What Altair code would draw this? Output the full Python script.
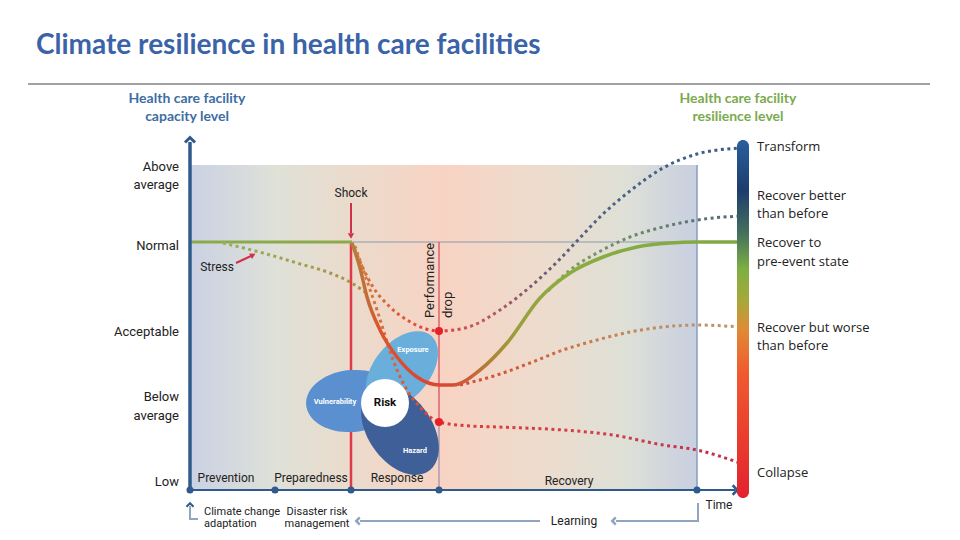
import altair as alt
import pandas as pd
import numpy as np

# Frame: t = time (0 at capacity axis), c = capacity (0 at time axis)
T_DOMAIN = [-182, 762]
C_DOMAIN = [-42, 482]

TITLE = "Climate resilience in health care facilities"
LEFT_HEADER = ["Health care facility", "capacity level"]
RIGHT_HEADER = ["Health care facility", "resilience level"]
HEADER_C = [391, 373]

LEVEL_TEXT = ["Above", "average", "Normal", "Acceptable", "Below", "average", "Low"]
LEVEL_C = [323, 305, 244, 158, 93, 74, 8]

OUTCOME_TEXT = ["Transform", "Recover better", "than before", "Recover to", "pre-event state",
                "Recover but worse", "than before", "Collapse"]
OUTCOME_C = [343, 294, 276, 247, 228, 162, 144, 17]

PHASE_TEXT = ["Prevention", "Preparedness", "Response", "Recovery"]
PHASE_T = [36, 121, 207, 379]
PHASE_C = [12, 12, 12, 9]
PHASE_BOUNDS = [0, 85, 161, 249, 507]

NORMAL = 248
SHOCK_T = 161
DROP_T = 249
RECOVERY_END = 507
BG_TOP = 325
AXIS_END_T = 545
AXIS_TOP_C = 350

# curves (t, c)
PRE_T = [0, 162]
PRE_C = [248, 248]
STRESS_T = [33, 73, 107, 140, 160, 175]
STRESS_C = [247, 237, 227, 217, 208, 198]
RESP_T = [162, 170, 177, 190, 207, 227, 250, 263, 290, 317, 350, 380, 413, 447, 480, 507, 550]
RESP_C = [247, 222, 193, 160, 133, 113, 105, 105, 120, 147, 192, 217, 233, 243, 247, 248, 248]
TRANSFORM_T = [162, 183, 200, 217, 249, 275, 310, 340, 367, 387, 413, 440, 473, 507, 550]
TRANSFORM_C = [247, 203, 183, 170, 159, 162, 180, 203, 228, 249, 276, 299, 322, 336, 342]
BETTER_T = [358, 380, 407, 440, 473, 507, 550]
BETTER_C = [199, 220, 237, 253, 263, 270, 274]
WORSE_T = [270, 307, 340, 373, 407, 440, 473, 507, 550]
WORSE_C = [105, 115, 127, 140, 150, 158, 163, 165, 163]
COLLAPSE_T = [165, 175, 188, 203, 217, 230, 249, 280, 307, 373, 423, 473, 507, 550]
COLLAPSE_C = [244, 215, 177, 130, 100, 83, 68, 64, 63, 60, 55, 45, 40, 27]
DROP_DOTS_C = [159, 68]

# risk diagram
VENN_TEXT = ["Vulnerability", "Exposure", "Hazard"]
VENN_T = [162, 212, 210]
VENN_C = [89, 120, 60]
VENN_LABEL_T = [145, 223, 225]
VENN_LABEL_C = [88, 140, 39]
RISK_T, RISK_C = 195, 87

X = alt.X("t:Q", scale=alt.Scale(domain=T_DOMAIN, nice=False, zero=False), axis=None)
Y = alt.Y("c:Q", scale=alt.Scale(domain=C_DOMAIN, nice=False, zero=False), axis=None)


def grad(stops, vertical=False):
    return alt.Gradient(gradient="linear",
                        stops=[alt.GradientStop(offset=o, color=col) for o, col in stops],
                        x1=0, y1=0, x2=0 if vertical else 1, y2=1 if vertical else 0)


def line(ts, cs, **kw):
    df = pd.DataFrame({"t": ts, "c": cs, "i": list(range(len(ts)))})
    return alt.Chart(df).mark_line(**kw).encode(x=X, y=Y, order="i:Q")


def segs(t1, c1, t2, c2, **kw):
    df = pd.DataFrame({"t": t1, "c": c1, "t2": t2, "c2": c2})
    return alt.Chart(df).mark_rule(**kw).encode(x=X, y=Y, x2="t2:Q", y2="c2:Q")


def pts(ts, cs, **kw):
    df = pd.DataFrame({"t": ts, "c": cs})
    return alt.Chart(df).mark_point(**kw).encode(x=X, y=Y)


def texts(ts, cs, labels, **kw):
    df = pd.DataFrame({"t": ts, "c": cs, "label": labels})
    return alt.Chart(df).mark_text(**kw).encode(x=X, y=Y, text="label:N")


def ellipse_path(ratio, n=72):
    a = np.linspace(0, 2 * np.pi, n, endpoint=False)
    return "M " + " L ".join(f"{np.cos(v):.4f} {ratio * np.sin(v):.4f}" for v in a) + " Z"


UP = "M -1 0.5 L 0 -0.5 L 1 0.5"
RIGHT = "M -0.5 -1 L 0.5 0 L -0.5 1"
LEFT = "M 0.5 -1 L -0.5 0 L 0.5 1"
AXIS_COL = "#2f5a8c"
LEARN_COL = "#8fa5c0"
DOT = [3, 3.5]
TXT = "#222222"

layers = []

# title + rule
layers.append(texts([-154], [444], [TITLE], align="left", font="Lato", fontWeight="bold",
                    fontSize=28, color="#3b63a8"))
layers.append(segs([-162], [406], [740], [406], color="#444444", strokeWidth=1))

# background
bg = pd.DataFrame({"t": [0], "c": [0], "t2": [RECOVERY_END], "c2": [BG_TOP]})
layers.append(alt.Chart(bg).mark_rect(fill=grad([
    (0.0, "#cad1e3"), (0.17, "#dfe1d8"), (0.31, "#eadbcc"), (0.5, "#f8d3c3"),
    (0.7, "#ecdccd"), (0.86, "#dee0d7"), (1.0, "#c8cfe0")])).encode(x=X, y=Y, x2="t2:Q", y2="c2:Q"))

# structural lines
layers.append(segs([162], [NORMAL], [RECOVERY_END], [NORMAL], color="#8c9aa6", strokeWidth=1))
layers.append(segs([RECOVERY_END], [0], [RECOVERY_END], [BG_TOP], color="#8a9cc0", strokeWidth=1.5))
layers.append(segs([DROP_T], [DROP_DOTS_C[1]], [DROP_T], [NORMAL], color="#d04858", strokeWidth=1.2))
layers.append(segs([DROP_T], [0], [DROP_T], [DROP_DOTS_C[1]], color="#9a8ea8", strokeWidth=1.2))
layers.append(segs([SHOCK_T], [0], [SHOCK_T], [NORMAL], color="#e03a48", strokeWidth=2.5))

# risk diagram
venn_style = [(46, 31, 355, "#5a8fd0"), (45, 28, 310, "#6aaedb"), (50, 32, 55, "#3f5f98")]
for (a, b, ang, col), t, c in zip(venn_style, VENN_T, VENN_C):
    layers.append(pts([t], [c], shape=ellipse_path(b / a), size=(2 * a) ** 2, angle=ang,
                      filled=True, opacity=1, color=col, strokeWidth=0))
layers.append(pts([RISK_T], [RISK_C], shape="circle", size=48 ** 2, filled=True, opacity=1,
                  color="white", strokeWidth=0))
layers.append(texts(VENN_LABEL_T, VENN_LABEL_C, VENN_TEXT, font="Roboto",
                    fontWeight="bold", fontSize=7.5, color="white"))
layers.append(texts([RISK_T], [RISK_C], ["Risk"], font="Roboto",
                    fontWeight="bold", fontSize=11.5, color="#111111"))

# curves
layers.append(line(PRE_T, PRE_C, color="#8caa4c", strokeWidth=3))
layers.append(line(STRESS_T, STRESS_C, interpolate="monotone", strokeWidth=3, strokeDash=DOT,
                   stroke=grad([(0, "#9aae5a"), (1, "#a89048")])))
layers.append(line(TRANSFORM_T, TRANSFORM_C, interpolate="monotone", strokeWidth=3, strokeDash=DOT,
                   stroke=grad([(0, "#c87a3a"), (0.1, "#e0603a"), (0.22, "#e03a3a"), (0.33, "#c05a5a"),
                                (0.43, "#8a5a70"), (0.54, "#5e6078"), (0.69, "#4a6385"), (1, "#3a5a8a")])))
layers.append(line(BETTER_T, BETTER_C, interpolate="monotone", strokeWidth=3, strokeDash=DOT,
                   stroke=grad([(0, "#8aa060"), (0.4, "#6e8a68"), (1, "#556575")])))
layers.append(line(WORSE_T, WORSE_C, interpolate="monotone", strokeWidth=3, strokeDash=DOT,
                   stroke=grad([(0, "#d04a3a"), (0.25, "#d0603a"), (0.5, "#c88050"), (1, "#b89a6a")])))
layers.append(line(COLLAPSE_T, COLLAPSE_C, interpolate="monotone", strokeWidth=3, strokeDash=DOT,
                   stroke=grad([(0, "#d88040"), (0.1, "#e06038"), (0.22, "#e03a3a"), (0.6, "#d04048"),
                                (1, "#c03048")])))
layers.append(line(RESP_T, RESP_C, interpolate="monotone", strokeWidth=3.5,
                   stroke=grad([(0, "#b08040"), (0.03, "#c07038"), (0.07, "#d6582e"), (0.18, "#dc4530"),
                                (0.25, "#d84a35"), (0.3, "#c8603a"), (0.37, "#aa8a38"), (0.43, "#98a03c"),
                                (0.54, "#8aad42"), (1, "#80a845")])))
layers.append(pts([DROP_T, DROP_T], DROP_DOTS_C, shape="circle", size=64, filled=True, opacity=1,
                  color="#e8202a", strokeWidth=0))

# axes
layers.append(segs([0], [0], [0], [AXIS_TOP_C - 2], color=AXIS_COL, strokeWidth=3.5))
layers.append(pts([0], [AXIS_TOP_C], shape=UP, size=100, filled=False, opacity=1, color=AXIS_COL,
                  strokeWidth=3))
layers.append(segs([0], [0], [AXIS_END_T], [0], color=AXIS_COL, strokeWidth=2))
layers.append(pts([AXIS_END_T], [0], shape=RIGHT, size=90, filled=False, opacity=1, color=AXIS_COL,
                  strokeWidth=2.5))
layers.append(pts(PHASE_BOUNDS, [0] * len(PHASE_BOUNDS), shape="circle", size=50, filled=True,
                  opacity=1, color=AXIS_COL, strokeWidth=0))

# colour bar
cb = pd.DataFrame({"t": [547], "c": [AXIS_TOP_C], "t2": [559], "c2": [-8]})
layers.append(alt.Chart(cb).mark_rect(cornerRadius=6, fill=grad([
    (0, "#2a5f9e"), (0.14, "#1d3d6c"), (0.26, "#456f5c"), (0.36, "#7eaf42"), (0.45, "#a8a83a"),
    (0.53, "#e08a35"), (0.65, "#f05a2f"), (1, "#e2222e")], vertical=True)).encode(
    x=X, y=Y, x2="t2:Q", y2="c2:Q"))

# annotations
layers.append(texts([SHOCK_T], [297], ["Shock"], font="Roboto", fontSize=12, color=TXT))
layers.append(segs([SHOCK_T], [287], [SHOCK_T], [257], color="#d03048", strokeWidth=2))
layers.append(pts([SHOCK_T], [254], shape="triangle-down", size=40, filled=True, opacity=1,
                  color="#d03048", strokeWidth=0))
layers.append(texts([27], [223], ["Stress"], font="Roboto", fontSize=12, color=TXT))
layers.append(segs([46], [227], [61], [234], color="#d03048", strokeWidth=2))
layers.append(pts([63], [235], shape="triangle-right", size=40, angle=333, filled=True, opacity=1,
                  color="#d03048", strokeWidth=0))
layers.append(texts([240, 258], [172, 172], ["Performance", "drop"], angle=270, align="left",
                    font="Roboto", fontSize=13, color=TXT))

# labels
layers.append(texts([-3, -3], HEADER_C, LEFT_HEADER, font="Lato", fontWeight="bold", fontSize=14,
                    color="#3d6da3"))
layers.append(texts([548, 548], HEADER_C, RIGHT_HEADER, font="Lato", fontWeight="bold", fontSize=14,
                    color="#7aaa4e"))
layers.append(texts([-11] * len(LEVEL_C), LEVEL_C, LEVEL_TEXT, align="right", font="Roboto",
                    fontSize=13, color=TXT))
layers.append(texts([567] * len(OUTCOME_C), OUTCOME_C, OUTCOME_TEXT, align="left", font="Open Sans",
                    fontSize=13, color=TXT))
layers.append(texts(PHASE_T, PHASE_C, PHASE_TEXT, font="Roboto", fontSize=12, color=TXT))
layers.append(texts([529], [-15], ["Time"], font="Roboto", fontSize=12, color=TXT))
layers.append(texts([14, 14], [-22, -34], ["Climate change", "adaptation"], align="left",
                    font="Roboto", fontSize=11, color=TXT))
layers.append(texts([127, 127], [-22, -34], ["Disaster risk", "management"], font="Roboto",
                    fontSize=11, color=TXT))
layers.append(texts([384], [-31], ["Learning"], font="Roboto", fontSize=12, color=TXT))

# learning arrows
layers.append(line([508, 508, 426], [-13, -31, -31], color=LEARN_COL, strokeWidth=2))
layers.append(pts([424], [-31], shape=LEFT, size=50, filled=False, opacity=1, color=LEARN_COL,
                  strokeWidth=2.5))
layers.append(segs([350], [-31], [170], [-31], color=LEARN_COL, strokeWidth=2))
layers.append(pts([168], [-31], shape=LEFT, size=50, filled=False, opacity=1, color=LEARN_COL,
                  strokeWidth=2.5))
layers.append(line([8, 0, 0], [-29, -29, -16], color=LEARN_COL, strokeWidth=2))
layers.append(pts([0], [-15], shape=UP, size=50, filled=False, opacity=1, color="#2f5a8c",
                  strokeWidth=2))

chart = alt.layer(*layers).properties(
    width=944, height=524, padding=0, autosize=alt.AutoSizeParams(type="none")
).configure_view(strokeWidth=0)

chart.save("out.html", embed_options={"renderer": "svg", "actions": False})
